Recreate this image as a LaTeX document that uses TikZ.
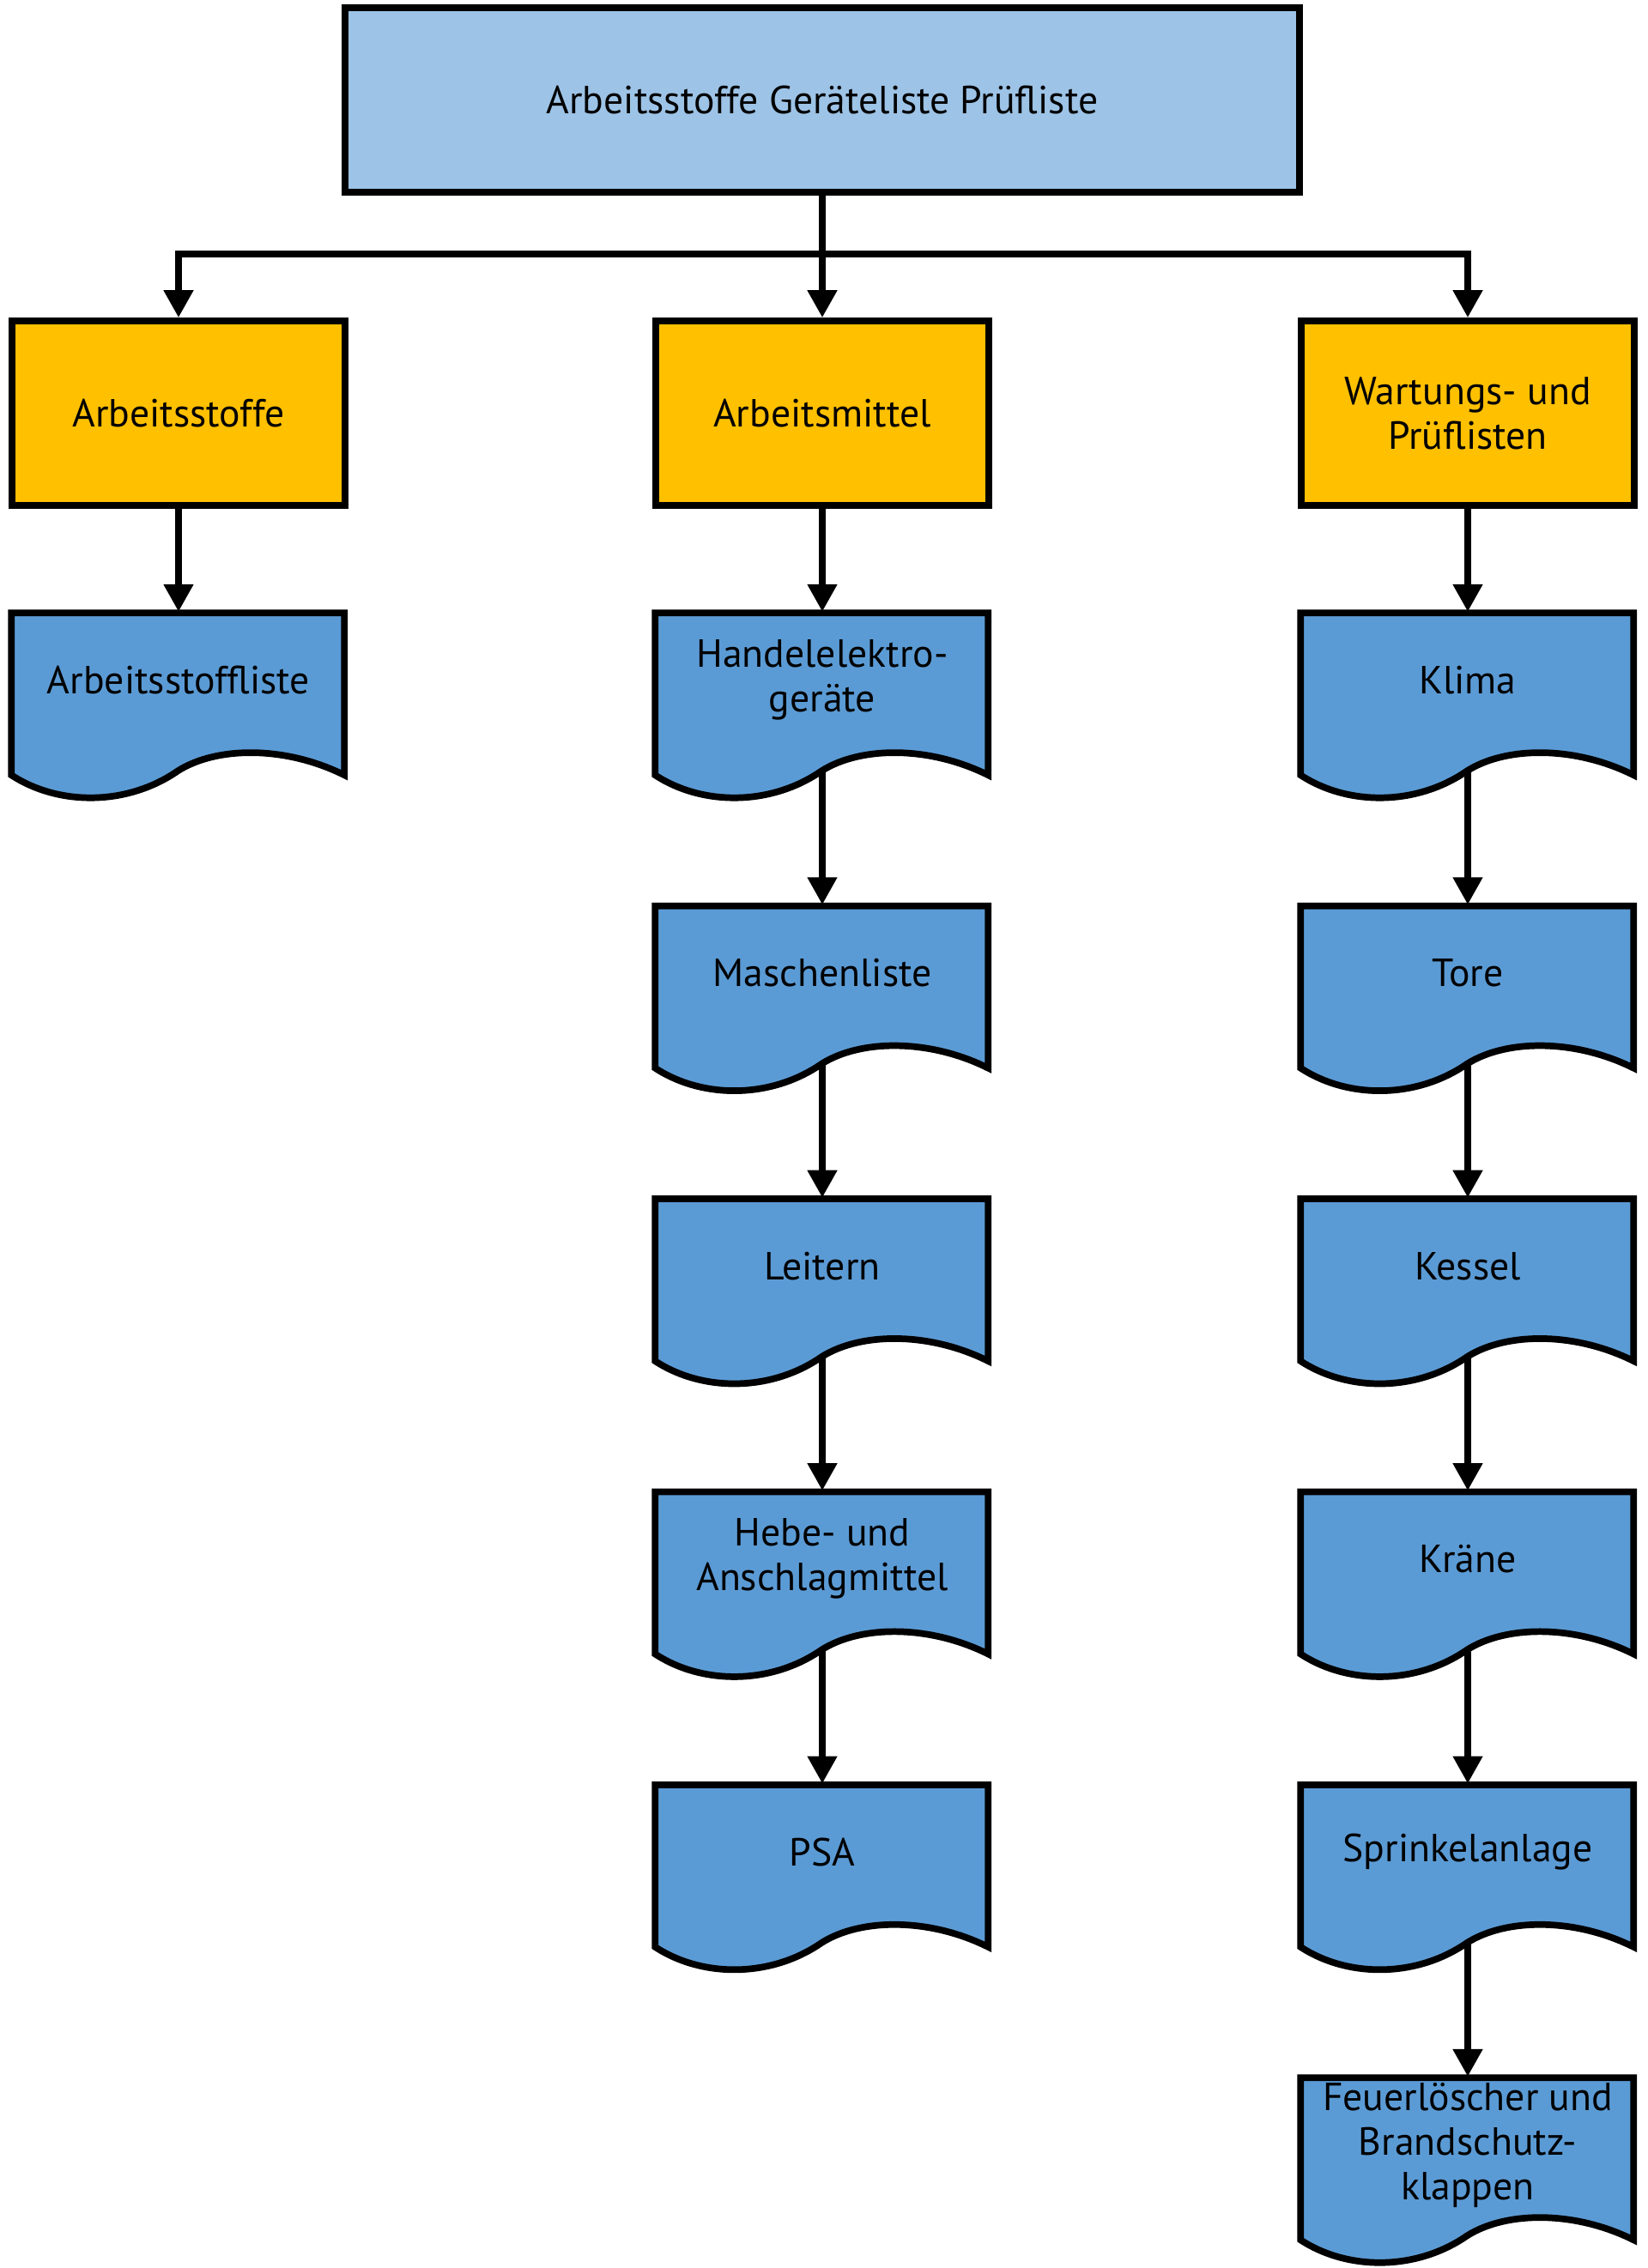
\documentclass[tikz,border=0pt]{standalone}
\usepackage{fontspec}
\setmainfont{PT Sans}
\usetikzlibrary{arrows.meta,positioning}
\pgfdeclarelayer{edges}
\pgfdeclarelayer{shapes}
\pgfsetlayers{edges,shapes,main}
\definecolor{kopfblau}{HTML}{9DC3E6}
\definecolor{gruppengelb}{HTML}{FFC000}
\definecolor{listenblau}{HTML}{5B9BD5}
\begin{document}
\begin{tikzpicture}[
    every node/.style={font=\fontsize{13pt}{14.8pt}\selectfont, align=center, inner sep=0pt},
    kopf/.style={draw, line width=2.2pt, fill=kopfblau, minimum width=11.12cm, minimum height=2.15cm},
    gruppe/.style={draw, line width=2.2pt, fill=gruppengelb, minimum width=3.88cm, minimum height=2.15cm},
    liste/.style={minimum width=3.88cm, minimum height=1.58cm},
    pfeil/.style={line width=2.2pt, -{Triangle[length=0.32cm, width=0.33cm]}},
    node distance=1.82cm]
    \useasboundingbox (0,0) rectangle (19.2,-26.43);
    % Kopf und Gruppen
    \node[kopf] (kopf) at (9.58,-1.165) {Arbeitsstoffe Geräteliste Prüfliste};
    \node[gruppe] (stoffe) at (2.08,-4.815) {Arbeitsstoffe};
    \node[gruppe] (mittel) at (9.58,-4.815) {Arbeitsmittel};
    \node[gruppe] (wartung) at (17.10,-4.815) {Wartungs- und\\Prüflisten};
    \coordinate (bar) at (9.58,-2.96);
    % Listen
    \node[liste, below=1.2cm of stoffe] (stoffliste) {Arbeitsstoffliste};
    \node[liste, below=1.2cm of mittel] (handel) {Handelelektro-\\geräte};
    \node[liste, below=of handel] (maschen) {Maschenliste};
    \node[liste, below=of maschen] (leitern) {Leitern};
    \node[liste, below=of leitern] (hebe) {Hebe- und\\Anschlagmittel};
    \node[liste, below=of hebe] (psa) {PSA};
    \node[liste, below=1.2cm of wartung] (klima) {Klima};
    \node[liste, below=of klima] (tore) {Tore};
    \node[liste, below=of tore] (kessel) {Kessel};
    \node[liste, below=of kessel] (kraene) {Kräne};
    \node[liste, below=of kraene] (sprinkel) {Sprinkelanlage};
    \node[liste, below=of sprinkel] (feuer) {Feuerlöscher und\\Brandschutz-\\klappen};
    % Dokumentsymbole
    \begin{pgfonlayer}{shapes}
        \foreach \n in {stoffliste,handel,maschen,leitern,hebe,psa,klima,tore,kessel,kraene,sprinkel,feuer} {
            \begin{scope}[shift={(\n.south west)}]
                \draw[line width=2.2pt, fill=listenblau] (0,1.58) -- (3.88,1.58) -- (3.88,-0.31)
                    .. controls (3.2,0.03) and (2.4,0.03) .. (1.94,-0.26)
                    .. controls (1.35,-0.67) and (0.55,-0.67) .. (0,-0.31) -- cycle;
            \end{scope}
        }
    \end{pgfonlayer}
    % Verbindungen
    \begin{pgfonlayer}{edges}
        \draw[pfeil] (kopf) -- (mittel);
        \foreach \g in {stoffe,wartung}
            \draw[pfeil] (kopf.south) -- (kopf.south |- bar) -| (\g);
        \foreach \a/\b in {stoffe/stoffliste, mittel/handel, handel/maschen, maschen/leitern,
                leitern/hebe, hebe/psa, wartung/klima, klima/tore, tore/kessel,
                kessel/kraene, kraene/sprinkel, sprinkel/feuer}
            \draw[pfeil] (\a) -- (\b);
    \end{pgfonlayer}
\end{tikzpicture}
\end{document}
